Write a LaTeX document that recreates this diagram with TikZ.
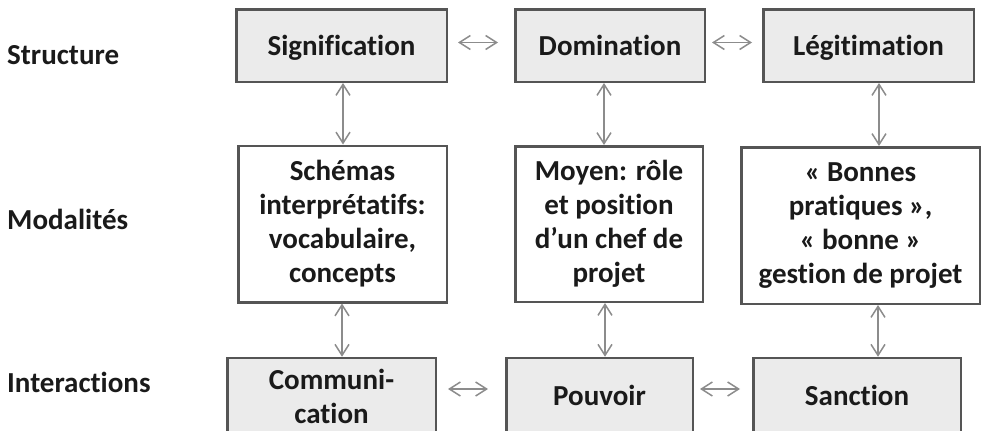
\documentclass[tikz,border=0pt]{standalone}
\usepackage{fontspec}
\setmainfont{Carlito}[Ligatures=NoCommon]
\usetikzlibrary{arrows.meta}
\definecolor{boxline}{HTML}{555555}
\definecolor{boxfill}{HTML}{EBEBEB}
\definecolor{arrowgray}{HTML}{8C8C8C}
\definecolor{txt}{HTML}{1A1A1A}
\begin{document}
\begin{tikzpicture}[x=1pt,y=-1pt,
  font=\fontsize{29}{34}\selectfont\bfseries,
  box/.style={draw=boxline, line width=2.5pt, fill=boxfill, inner sep=0pt,
    align=center, text=txt},
  oneline/.style={text height=24pt, text depth=5pt},
  midbox/.style={box, fill=white},
  rowlabel/.style={anchor=base west, inner sep=0pt, text=txt},
  link/.style={draw=arrowgray, line width=1.5pt,
    {Straight Barb[length=11pt,width=14pt]}-{Straight Barb[length=11pt,width=14pt]}}]
\clip (0,0) rectangle (983,431);
\useasboundingbox (0,0) rectangle (983,431);
\fill[white] (0,0) rectangle (983,431);

% row labels
\node[rowlabel] (lstruct) at (7,64) {Structure};
\node[rowlabel] (lmod) at (7,229) {Modalités};
\node[rowlabel] (linter) at (7,392) {Interactions};

% top row
\node[box, oneline, minimum width=210.5pt, minimum height=72.5pt] (sig) at (341.5,45.5) {Signification};
\node[box, oneline, minimum width=189.5pt, minimum height=72.5pt] (dom) at (610,45.5) {Domination};
\node[box, oneline, minimum width=210.5pt, minimum height=72.5pt] (leg) at (868.5,45.5) {Légitimation};

% middle row
\node[midbox, minimum width=208.5pt, minimum height=156.5pt] (sch) at (342.5,224)
  {Schémas\\interprétatifs:\\vocabulaire,\\concepts};
\node[midbox, minimum width=187.5pt, minimum height=155.5pt] (moy) at (609,224)
  {Moyen: rôle\\et position\\d’un chef de\\projet};
\node[midbox, minimum width=238.5pt, minimum height=156.5pt] (bon) at (860.5,225.5)
  {« Bonnes\\pratiques »,\\« bonne »\\gestion de projet};

% bottom row
\node[box, minimum width=208.5pt, minimum height=76pt] (com) at (331.5,396)
  {Communi-\\cation};
\node[box, oneline, minimum width=186.5pt, minimum height=76pt] (pou) at (599.5,396) {Pouvoir};
\node[box, oneline, minimum width=207.5pt, minimum height=76pt] (san) at (857,396) {Sanction};

% horizontal links
\draw[link] ([shift={(10,-3)}]sig.east) -- ([shift={(-16,-3)}]dom.west);
\draw[link] ([shift={(6,-3)}]dom.east) -- ([shift={(-10,-3)}]leg.west);
\draw[link] ([shift={(11,-7)}]com.east) -- ([shift={(-17,-7)}]pou.west);
\draw[link] ([shift={(6,-7)}]pou.east) -- ([shift={(-12,-7)}]san.west);

% vertical link anchors
\path (sch.north) ++(0.5,0) coordinate (a1);
\path (moy.north) ++(-5,0) coordinate (a2);
\path (bon.north) ++(18.5,0) coordinate (a3);
\path (sch.south) ++(-0.5,0) coordinate (b1);
\path (moy.south) ++(-4,0) coordinate (b2);
\path (bon.south) ++(17.5,0) coordinate (b3);

\draw[link] (a1 |- sig.south) -- (a1);
\draw[link] (a2 |- dom.south) -- (a2);
\draw[link] (a3 |- leg.south) -- (a3);
\draw[link] (b1) -- (b1 |- com.north);
\draw[link] (b2) -- (b2 |- pou.north);
\draw[link] (b3) -- (b3 |- san.north);
\end{tikzpicture}
\end{document}
